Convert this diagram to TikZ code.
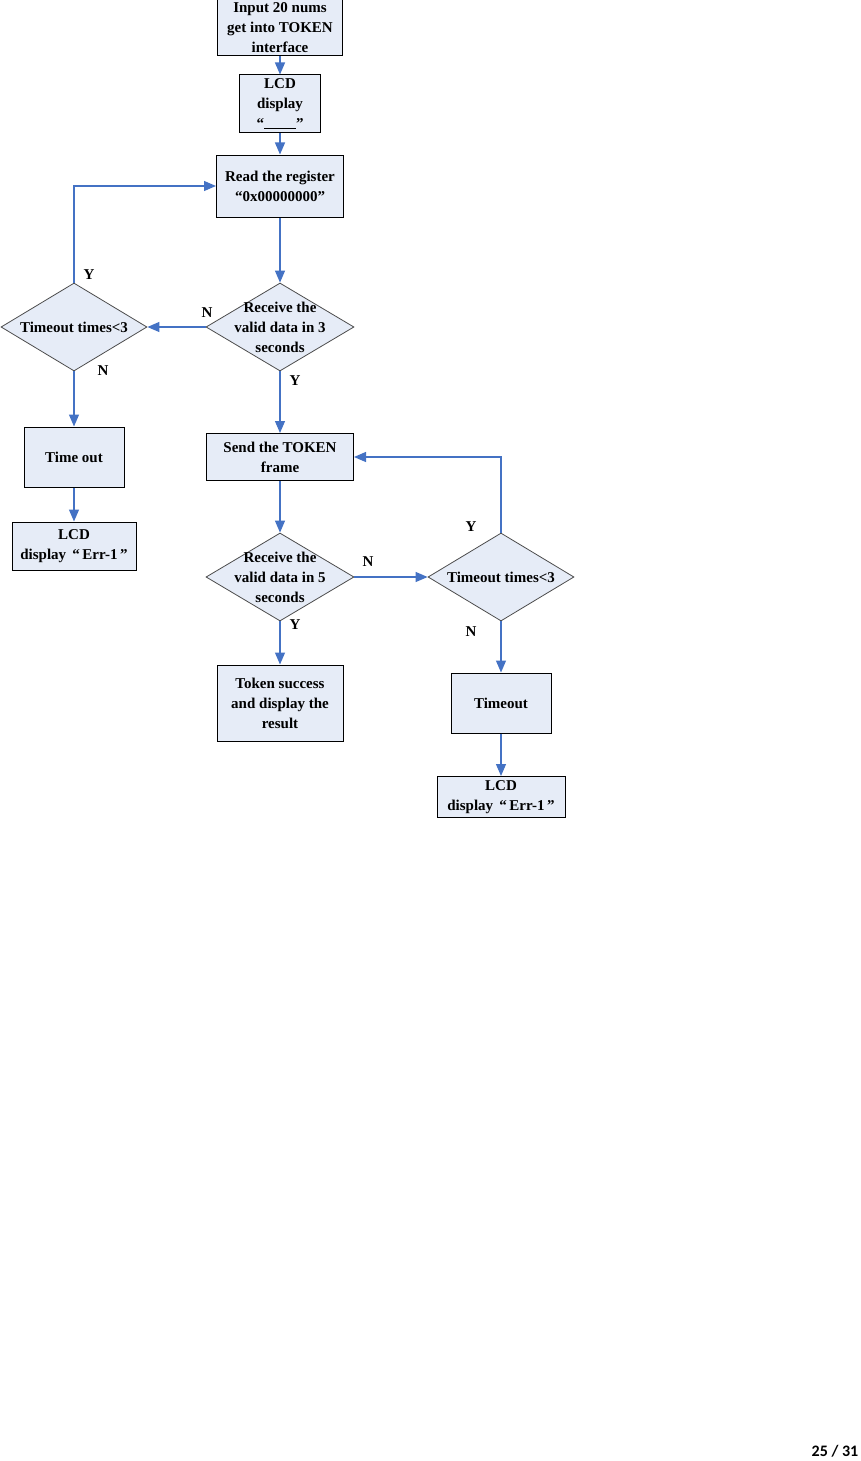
\documentclass[tikz,border=0pt]{standalone}
\usepackage{fontspec}
\setmainfont{Liberation Serif}
\newfontfamily\pagefont{Carlito}
\usepackage{tikz}
\usetikzlibrary{shapes.geometric, arrows.meta, positioning}
\definecolor{boxfill}{HTML}{E6ECF7}
\definecolor{flowblue}{HTML}{4472C4}

\tikzset{
  flowbox/.style={rectangle, draw=black, fill=boxfill, line width=0.5pt, inner sep=0pt, align=center,
    font=\fontsize{7.5}{10}\selectfont\bfseries},
  decision/.style={diamond, draw=black!70, fill=boxfill, line width=0.4pt, inner sep=0pt,
    minimum width=74pt, minimum height=44pt,
    label={[align=center, font=\fontsize{7.5}{10}\selectfont\bfseries]center:#1}},
  flow/.style={-{Triangle[width=5pt,length=6pt]}, flowblue, line width=0.6pt},
  yn/.style={font=\fontsize{7.5}{9}\selectfont\bfseries}
}

\begin{document}
\begin{tikzpicture}[x=0.5pt, y=-0.5pt]
  \useasboundingbox (0,0) rectangle (861,1461);
  % main column
  \node[flowbox, minimum width=62.5pt, minimum height=28pt] (input) at (280,28) {Input 20 nums\\get into TOKEN\\interface};
  \node[flowbox, minimum width=40.5pt, minimum height=29pt] (lcd) at (280,104) {LCD\\display\\“\rule[-0.5pt]{16pt}{0.6pt}”};
  \node[flowbox, minimum width=63.5pt, minimum height=31pt] (readreg) at (280,186) {Read the register\\“0x00000000”};
  \node[decision={Receive the\\valid data in 3\\seconds}] (recv3) at (280,327) {};
  \node[decision={Timeout times<3}, minimum width=73pt] (retryA) at (74,327) {};
  \node[flowbox, minimum width=50pt, minimum height=30pt] (tmoutA) at (74,457) {Time out};
  \node[flowbox, minimum width=62pt, minimum height=24pt] (errA) at (74,546) {LCD\\display \,“\,Err-1\,”};
  \node[flowbox, minimum width=73.5pt, minimum height=23.5pt] (sendtok) at (280,457) {Send the TOKEN\\frame};
  \node[decision={Receive the\\valid data in 5\\seconds}] (recv5) at (280,577) {};
  \node[decision={Timeout times<3}, minimum width=73pt] (retryB) at (501,577) {};
  \node[flowbox, minimum width=63pt, minimum height=38pt] (success) at (280,703) {Token success\\and display the\\result};
  \node[flowbox, minimum width=50pt, minimum height=30pt] (tmoutB) at (501,703) {Timeout};
  \node[flowbox, minimum width=64pt, minimum height=20.5pt] (errB) at (501,797) {LCD\\display \,“\,Err-1\,”};

  \draw[flow] (input) -- (lcd);
  \draw[flow] (lcd) -- (readreg);
  \draw[flow] (readreg) -- (recv3);
  \draw[flow] (recv3) -- (retryA);
  \draw[flow] (retryA.north) |- (readreg.west);
  \draw[flow] (retryA) -- (tmoutA);
  \draw[flow] (tmoutA) -- (errA);
  \draw[flow] (recv3) -- (sendtok);
  \draw[flow] (sendtok) -- (recv5);
  \draw[flow] (recv5) -- (retryB);
  \draw[flow] (retryB.north) |- (sendtok.east);
  \draw[flow] (recv5) -- (success);
  \draw[flow] (retryB) -- (tmoutB);
  \draw[flow] (tmoutB) -- (errB);

  % Y / N labels
  \node[yn] (ya) at (89,275) {Y};
  \node[yn] (nb) at (207,313) {N};
  \node[yn] (na) at (103,371) {N};
  \node[yn] (yb) at (295,381) {Y};
  \node[yn] (yc) at (471,527) {Y};
  \node[yn] (nc) at (368,562) {N};
  \node[yn] (yd) at (295,625) {Y};
  \node[yn] (nd) at (471,632) {N};

  \node[font=\pagefont\bfseries\fontsize{8}{9}\selectfont] (pagenum) at (835,1451) {25 / 31};
\end{tikzpicture}
\end{document}
